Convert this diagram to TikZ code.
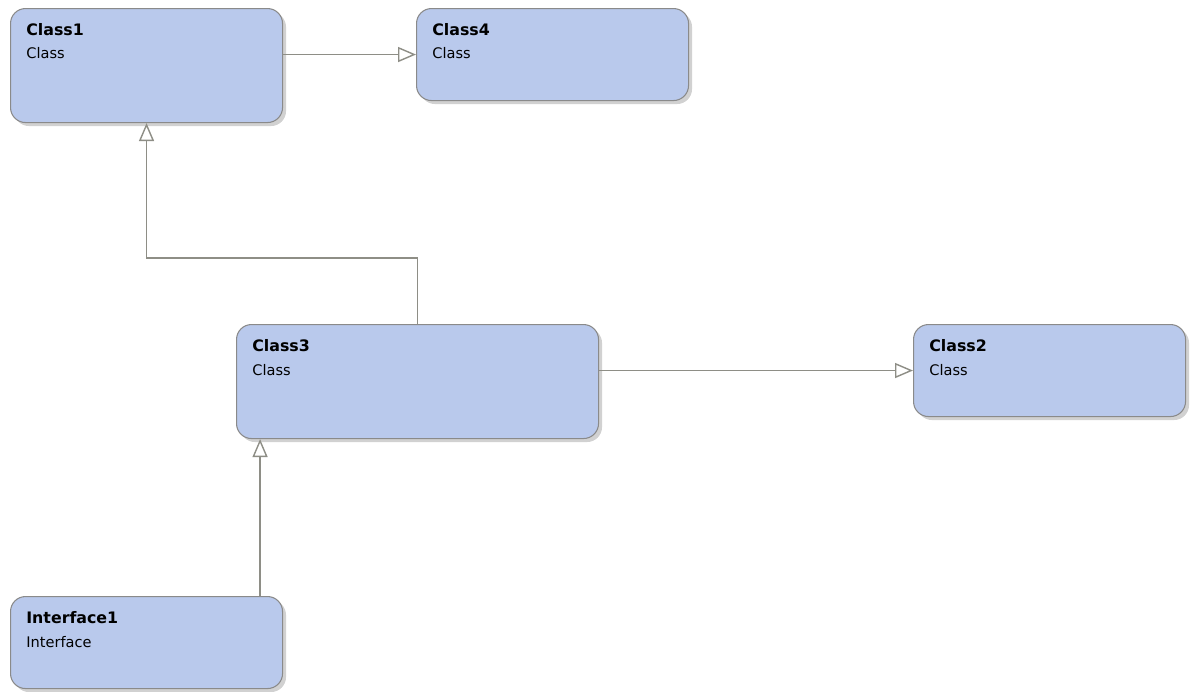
\documentclass[tikz,border=0pt]{standalone}
\usepackage{fontspec}
\setmainfont{DejaVu Sans}
\usetikzlibrary{arrows.meta,positioning,shadows}

\definecolor{boxfill}{HTML}{B9C9EC}
\definecolor{boxline}{HTML}{8A8A8A}
\definecolor{linkgray}{HTML}{8E8E86}

\tikzset{
	classbox/.style={draw=boxline, fill=boxfill, line width=0.6pt, rounded corners=0.3cm,
		anchor=north west, inner sep=0pt,
		drop shadow={shadow xshift=0.07cm, shadow yshift=-0.07cm, fill=black!18, opacity=1}},
	classtitle/.style={anchor=base west, inner sep=0pt, font=\fontsize{9}{11}\selectfont\bfseries},
	classkind/.style={anchor=base west, inner sep=0pt, font=\fontsize{8.3}{10}\selectfont},
	generalization/.style={draw=linkgray, line width=0.8pt,
		-{Triangle[length=0.36cm, width=0.3cm, fill=white]}}
}

\begin{document}
\begin{tikzpicture}[x=0.02cm, y=-0.02cm]
	\fill[white] (0,0) rectangle (1190,691);
	\useasboundingbox (0,0) rectangle (1190,691);

	\newcommand\drawClass[7]{
		\node[classbox, minimum width=#3*0.02cm, minimum height=#4*0.02cm] (#5) at (#1,#2) {};
		\node[classtitle] (#5-title) at ([xshift=0.32cm, yshift=-0.54cm]#5.north west) {#6};
		\node[classkind] (#5-kind) at ([xshift=0.32cm, yshift=-1.02cm]#5.north west) {#7};
	}

	\drawClass{10}{8}{272}{114}{class1}{Class1}{Class}
	\drawClass{416}{8}{272}{92}{class4}{Class4}{Class}
	\drawClass{236}{324}{362}{114}{class3}{Class3}{Class}
	\drawClass{913}{324}{272}{92}{class2}{Class2}{Class}
	\drawClass{10}{596}{272}{92}{interface1}{Interface1}{Interface}

	% inheritance links
	\draw[generalization] (class1.east |- class4.west) -- (class4.west);
	\draw[generalization] (class3.east |- class2.west) -- (class2.west);

	\coordinate (bend) at (146,258);
	\draw[generalization] (class3.north) -- (class3.north |- bend) -| (class1.south);

	\coordinate (iface-top) at ([xshift=-0.46cm]interface1.north east);
	\draw[generalization] (iface-top) -- (iface-top |- class3.south);
\end{tikzpicture}
\end{document}
